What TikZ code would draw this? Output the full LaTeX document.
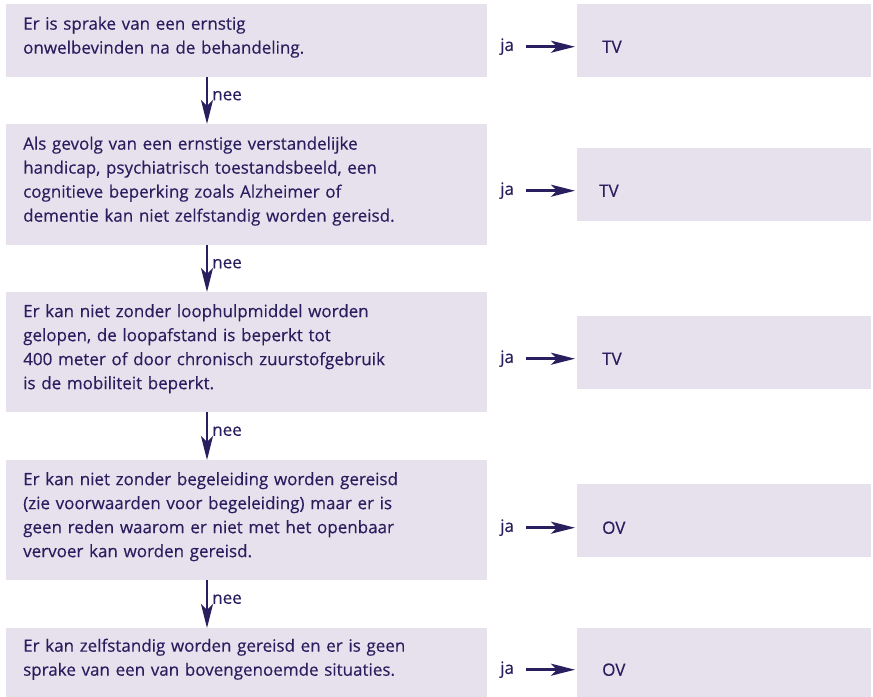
\documentclass[tikz,border=0pt]{standalone}
\usepackage{fontspec}
\setmainfont{Open Sans}[FakeBold=0.35]
\usetikzlibrary{arrows.meta,calc}
\definecolor{ink}{HTML}{2A1F5E}
\definecolor{boxfill}{HTML}{E7E1EE}
\newcommand{\lowstrut}{\rule[-11bp]{0pt}{11bp}}
\begin{document}
\begin{tikzpicture}[x=1bp,y=-1bp,
  txt/.style={text=ink, font=\fontsize{17bp}{24bp}\selectfont},
  lbox/.style={txt, fill=boxfill, draw=none, minimum width=481bp, text width=447bp,
     inner xsep=17bp, inner ysep=0bp, align=left, anchor=north west},
  rbox/.style={fill=boxfill, draw=none, minimum width=294bp, minimum height=73bp,
     inner sep=0bp, anchor=north west},
  arr/.style={draw=ink, line width=2.6bp, -{Stealth[length=24bp,width=12bp,inset=6bp]}},
  lab/.style={txt, inner sep=0bp, anchor=west}
]
\useasboundingbox (0,0) rectangle (873,697);

% left boxes
\node[lbox, minimum height=73bp] (l1) at (6,4)
  {Er is sprake van een ernstig\\onwelbevinden na de behandeling.\lowstrut};
\node[lbox, minimum height=121bp] (l2) at (6,124)
  {Als gevolg van een ernstige verstandelijke\\handicap, psychiatrisch toestandsbeeld, een\\cognitieve beperking zoals Alzheimer of\\dementie kan niet zelfstandig worden gereisd.\lowstrut};
\node[lbox, minimum height=120bp] (l3) at (6,292)
  {Er kan niet zonder loophulpmiddel worden\\gelopen, de loopafstand is beperkt tot\\400 meter of door chronisch zuurstofgebruik\\is de mobiliteit beperkt.\lowstrut};
\node[lbox, minimum height=120bp] (l4) at (6,460)
  {Er kan niet zonder begeleiding worden gereisd\\(zie voorwaarden voor begeleiding) maar er is\\geen reden waarom er niet met het openbaar\\vervoer kan worden gereisd.\lowstrut};
\node[lbox, minimum height=69bp] (l5) at (6,628)
  {Er kan zelfstandig worden gereisd en er is geen\\sprake van een van bovengenoemde situaties.\lowstrut};

% right boxes
\node[rbox] (r1) at (577,4) {};
\node[rbox] (r2) at (577,148) {};
\node[rbox] (r3) at (577,316) {};
\node[rbox] (r4) at (577,484) {};
\node[rbox, minimum height=69bp] (r5) at (577,628) {};

% right labels
\node[lab] (t1) at ($(r1.west)+(25,6)$) {TV};
\node[lab] (t2) at ($(r2.west)+(22,6)$) {TV};
\node[lab] (t3) at ($(r3.west)+(25,6)$) {TV};
\node[lab] (t4) at ($(r4.west)+(25,7)$) {OV};
\node[lab] (t5) at ($(r5.west)+(25,7)$) {OV};

% ja labels and arrows
\foreach \i/\dy in {1/6,2/6,3/6,4/7,5/7}{
  \node[lab] (ja\i) at ($(r\i.west)+(-77,\dy)$) {ja};
  \draw[arr, shorten <=12bp, shorten >=2bp] (ja\i.east) -- (ja\i.east -| r\i.west);
}

% down arrows
\foreach \a/\b in {l1/l2,l2/l3,l3/l4,l4/l5}{
  \draw[arr] ($(\a.south west)+(201,0)$) -- ($(\b.north west)+(201,0)$)
    node[lab, midway, xshift=4bp, yshift=5bp] {nee};
}
\end{tikzpicture}
\end{document}
